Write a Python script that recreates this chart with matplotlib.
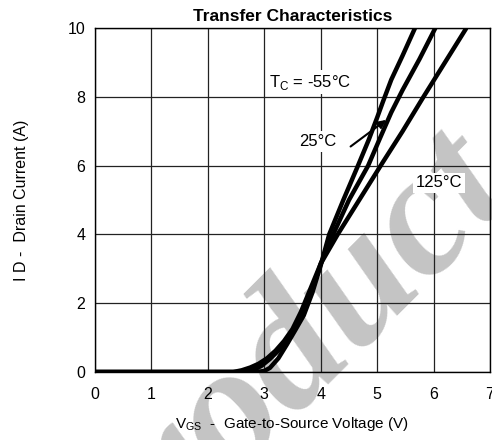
import numpy as np
import matplotlib.pyplot as plt

plt.rcParams['font.family'] = ['Liberation Sans', 'DejaVu Sans']
plt.rcParams['mathtext.fontset'] = 'custom'
plt.rcParams['mathtext.rm'] = 'Liberation Sans'

# Transfer curves
vgs_m55 = [0, 2.85, 3.0, 3.1, 3.25, 3.4, 3.55, 3.7, 3.85, 4.0, 4.15, 4.4, 4.66, 4.85, 5.0, 5.1, 5.25, 5.45, 5.67]
id_m55 = [0, 0, 0.03, 0.12, 0.4, 0.8, 1.22, 1.65, 2.3, 3.1, 4.0, 5.0, 6.0, 6.75, 7.4, 7.85, 8.5, 9.2, 10]

vgs_25 = [0, 2.65, 2.8, 2.95, 3.1, 3.25, 3.4, 3.55, 3.7, 3.85, 4.0, 4.22, 4.5, 4.84, 5.05, 5.25, 5.45, 5.75, 6.03]
id_25 = [0, 0, 0.05, 0.18, 0.38, 0.62, 0.92, 1.3, 1.8, 2.4, 3.15, 4.0, 5.0, 6.0, 6.8, 7.55, 8.2, 9.1, 10]

vgs_125 = [0, 2.45, 2.6, 2.75, 2.9, 3.05, 3.2, 3.35, 3.5, 3.65, 3.8, 4.0, 4.3, 4.7, 5.1, 5.45, 5.82, 6.2, 6.58]
id_125 = [0, 0, 0.05, 0.13, 0.24, 0.4, 0.62, 0.9, 1.25, 1.75, 2.35, 3.15, 4.0, 5.05, 6.1, 7.0, 8.0, 9.0, 10]

xticks = [0, 1, 2, 3, 4, 5, 6, 7]
yticks = [0, 2, 4, 6, 8, 10]

fig = plt.figure(figsize=(4.92, 4.40), dpi=100)
ax = fig.add_axes([0.193, 0.1545, 0.803, 0.7815])
ax.set_facecolor('none')

# watermark, drawn under the axes
fig.text(1.052, 0.555, "Product", rotation=45, rotation_mode='anchor', fontsize=128,
         family='Liberation Serif', style='italic', weight='bold', color='#c4c4c4',
         ha='right', va='baseline', zorder=-1)

for v, i in [(vgs_m55, id_m55), (vgs_25, id_25), (vgs_125, id_125)]:
    ax.plot(v, i, color='black', lw=3.2, solid_capstyle='butt', zorder=5)

ax.set_xlim(0, 7)
ax.set_ylim(0, 10)
ax.set_xticks(xticks)
ax.set_yticks(yticks)
ax.grid(True, color='#222222', lw=0.9)
ax.set_axisbelow(True)
ax.tick_params(length=0, labelsize=11.5)
ax.tick_params(axis='x', pad=11)
ax.tick_params(axis='y', pad=7)
for s in ax.spines.values():
    s.set_linewidth(1.0)

box = dict(facecolor='white', edgecolor='none', pad=2)
ax.text(3.81, 8.43, "T$_{\\rm C}$ = -55\u00b0C", fontsize=12, ha='center', va='center', bbox=box, zorder=4)
ax.text(3.95, 6.7, "25\u00b0C", fontsize=12, ha='center', va='center', bbox=box, zorder=4)
ax.text(6.1, 5.5, "125\u00b0C", fontsize=12, ha='center', va='center', bbox=box, zorder=4)
ax.annotate("", xy=(5.2, 7.38), xytext=(4.49, 6.51),
            arrowprops=dict(arrowstyle='-|>', color='black', lw=1.5, mutation_scale=12), zorder=6)

ax.set_title("Transfer Characteristics", fontsize=12.5, weight='bold', pad=5)
ax.set_xlabel("V$_{\\rm GS}$  -  Gate-to-Source Voltage (V)", fontsize=11, labelpad=9)
ax.set_ylabel("I D -  Drain Current (A)", fontsize=11.5, labelpad=28)

fig.savefig("out.png", dpi=100)
